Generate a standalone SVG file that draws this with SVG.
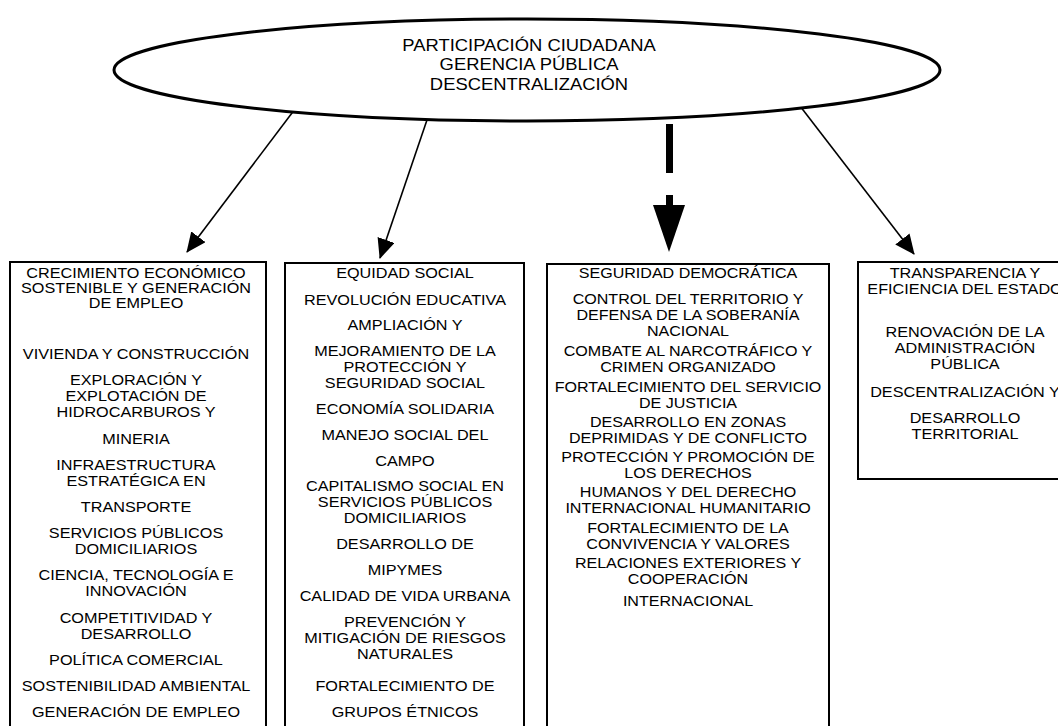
<svg xmlns="http://www.w3.org/2000/svg" width="1058" height="726" viewBox="0 0 1058 726">
<style>
.box{fill:#fff;stroke:#000;stroke-width:2}
.t{font-family:"Liberation Sans",Arial,sans-serif;font-size:15.3px;fill:#000;text-anchor:middle}
.e{font-family:"Liberation Sans",Arial,sans-serif;font-size:16px;fill:#000;text-anchor:middle}
.conn{stroke:#000;stroke-width:1.6;fill:none}
</style>
<defs>
<marker id="ah" viewBox="0 0 20 18" markerWidth="20" markerHeight="18" markerUnits="userSpaceOnUse" refX="19" refY="9" orient="auto">
<path d="M0,0 L20,9 L0,18 z" fill="#000"/>
</marker>
</defs>
<rect width="1058" height="726" fill="#fff"/>
<g id="connectors">
<line class="conn" x1="295" y1="109" x2="187" y2="252" marker-end="url(#ah)"/>
<line class="conn" x1="428" y1="117" x2="380" y2="258" marker-end="url(#ah)"/>
<line class="conn" x1="800" y1="106" x2="914" y2="254" marker-end="url(#ah)"/>
<rect x="666" y="124" width="7" height="49" fill="#000"/>
<rect x="666" y="195" width="7" height="11" fill="#000"/>
<polygon points="653,205 685,205 669,252" fill="#000"/>
</g>
<g id="center">
<ellipse cx="527" cy="70" rx="413" ry="51" fill="#fff" stroke="#000" stroke-width="3"/>
<g transform="translate(529,0) scale(1.15,1)">
<text class="e" x="0" y="51">PARTICIPACIÓN CIUDADANA</text>
<text class="e" x="0" y="70">GERENCIA PÚBLICA</text>
<text class="e" x="0" y="90">DESCENTRALIZACIÓN</text>
</g>
</g>
<g id="box1">
<rect class="box" x="10" y="262" width="256" height="470"/>
<g transform="translate(136,0) scale(1.06,1)">
<text class="t" x="0" y="278">CRECIMIENTO ECONÓMICO</text>
<text class="t" x="0" y="293">SOSTENIBLE Y GENERACIÓN</text>
<text class="t" x="0" y="308">DE EMPLEO</text>
<text class="t" x="0" y="359">VIVIENDA Y CONSTRUCCIÓN</text>
<text class="t" x="0" y="385">EXPLORACIÓN Y</text>
<text class="t" x="0" y="401">EXPLOTACIÓN DE</text>
<text class="t" x="0" y="417">HIDROCARBUROS Y</text>
<text class="t" x="0" y="444">MINERIA</text>
<text class="t" x="0" y="470">INFRAESTRUCTURA</text>
<text class="t" x="0" y="486">ESTRATÉGICA EN</text>
<text class="t" x="0" y="512">TRANSPORTE</text>
<text class="t" x="0" y="538">SERVICIOS PÚBLICOS</text>
<text class="t" x="0" y="554">DOMICILIARIOS</text>
<text class="t" x="0" y="580">CIENCIA, TECNOLOGÍA E</text>
<text class="t" x="0" y="596">INNOVACIÓN</text>
<text class="t" x="0" y="623">COMPETITIVIDAD Y</text>
<text class="t" x="0" y="639">DESARROLLO</text>
<text class="t" x="0" y="665">POLÍTICA COMERCIAL</text>
<text class="t" x="0" y="691">SOSTENIBILIDAD AMBIENTAL</text>
<text class="t" x="0" y="717">GENERACIÓN DE EMPLEO</text>
</g>
</g>
<g id="box2">
<rect class="box" x="285" y="263" width="239" height="470"/>
<g transform="translate(405,0) scale(1.06,1)">
<text class="t" x="0" y="278">EQUIDAD SOCIAL</text>
<text class="t" x="0" y="305">REVOLUCIÓN EDUCATIVA</text>
<text class="t" x="0" y="330">AMPLIACIÓN Y</text>
<text class="t" x="0" y="356">MEJORAMIENTO DE LA</text>
<text class="t" x="0" y="372">PROTECCIÓN Y</text>
<text class="t" x="0" y="388">SEGURIDAD SOCIAL</text>
<text class="t" x="0" y="414">ECONOMÍA SOLIDARIA</text>
<text class="t" x="0" y="440">MANEJO SOCIAL DEL</text>
<text class="t" x="0" y="466">CAMPO</text>
<text class="t" x="0" y="491">CAPITALISMO SOCIAL EN</text>
<text class="t" x="0" y="507">SERVICIOS PÚBLICOS</text>
<text class="t" x="0" y="523">DOMICILIARIOS</text>
<text class="t" x="0" y="549">DESARROLLO DE</text>
<text class="t" x="0" y="575">MIPYMES</text>
<text class="t" x="0" y="601">CALIDAD DE VIDA URBANA</text>
<text class="t" x="0" y="627">PREVENCIÓN Y</text>
<text class="t" x="0" y="643">MITIGACIÓN DE RIESGOS</text>
<text class="t" x="0" y="659">NATURALES</text>
<text class="t" x="0" y="691">FORTALECIMIENTO DE</text>
<text class="t" x="0" y="717">GRUPOS ÉTNICOS</text>
</g>
</g>
<g id="box3">
<rect class="box" x="547" y="264" width="282" height="470"/>
<g transform="translate(688,0) scale(1.05,1)">
<text class="t" x="0" y="278">SEGURIDAD DEMOCRÁTICA</text>
<text class="t" x="0" y="304">CONTROL DEL TERRITORIO Y</text>
<text class="t" x="0" y="320">DEFENSA DE LA SOBERANÍA</text>
<text class="t" x="0" y="336">NACIONAL</text>
<text class="t" x="0" y="356">COMBATE AL NARCOTRÁFICO Y</text>
<text class="t" x="0" y="372">CRIMEN ORGANIZADO</text>
<text class="t" x="0" y="392">FORTALECIMIENTO DEL SERVICIO</text>
<text class="t" x="0" y="408">DE JUSTICIA</text>
<text class="t" x="0" y="427">DESARROLLO EN ZONAS</text>
<text class="t" x="0" y="443">DEPRIMIDAS Y DE CONFLICTO</text>
<text class="t" x="0" y="462">PROTECCIÓN Y PROMOCIÓN DE</text>
<text class="t" x="0" y="478">LOS DERECHOS</text>
<text class="t" x="0" y="497">HUMANOS Y DEL DERECHO</text>
<text class="t" x="0" y="513">INTERNACIONAL HUMANITARIO</text>
<text class="t" x="0" y="533">FORTALECIMIENTO DE LA</text>
<text class="t" x="0" y="549">CONVIVENCIA Y VALORES</text>
<text class="t" x="0" y="568">RELACIONES EXTERIORES Y</text>
<text class="t" x="0" y="584">COOPERACIÓN</text>
<text class="t" x="0" y="606">INTERNACIONAL</text>
</g>
</g>
<g id="box4">
<rect class="box" x="858" y="262" width="220" height="217"/>
<g transform="translate(965,0) scale(1.06,1)">
<text class="t" x="0" y="278">TRANSPARENCIA Y</text>
<text class="t" x="0" y="294">EFICIENCIA DEL ESTADO</text>
<text class="t" x="0" y="337">RENOVACIÓN DE LA</text>
<text class="t" x="0" y="353">ADMINISTRACIÓN</text>
<text class="t" x="0" y="369">PÚBLICA</text>
<text class="t" x="0" y="397">DESCENTRALIZACIÓN Y</text>
<text class="t" x="0" y="423">DESARROLLO</text>
<text class="t" x="0" y="439">TERRITORIAL</text>
</g>
</g>
</svg>
